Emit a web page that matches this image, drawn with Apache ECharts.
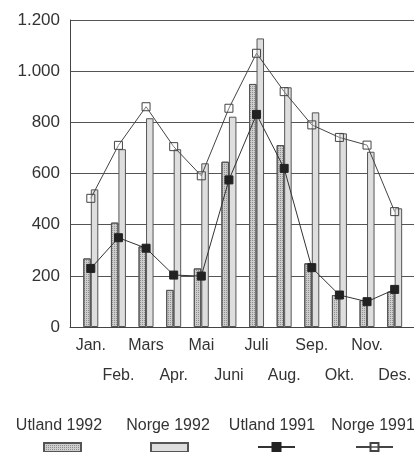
<!DOCTYPE html>
<html>
<head>
<meta charset="utf-8">
<script src="https://cdn.jsdelivr.net/npm/echarts@6/dist/echarts.min.js"></script>
<style>
html,body{margin:0;padding:0;background:#fff;}
#chart{width:414px;height:452px;}
</style>
</head>
<body>
<div id="chart"></div>
<script>
const categories = ['Jan.','Feb.','Mars','Apr.','Mai','Juni','Juli','Aug.','Sep.','Okt.','Nov.','Des.'];
const utland1992 = [268, 408, 315, 145, 229, 646, 950, 711, 249, 125, 105, 138];
const norge1992  = [538, 695, 816, 695, 640, 822, 1128, 937, 839, 757, 685, 464];
const utland1991 = [229, 349, 308, 203, 199, 575, 831, 620, 232, 125, 99, 147];
const norge1991  = [503, 710, 861, 705, 591, 855, 1070, 920, 790, 741, 711, 451];
const seriesNames = ['Utland 1992','Norge 1992','Utland 1991','Norge 1991'];
const yMin = 0, yMax = 1200, yStep = 200;

const FONT = '"Liberation Sans", Arial, sans-serif';
const TXT = '#333';
const chart = echarts.init(document.getElementById('chart'), null, {renderer:'canvas'});

const legendX = [43, 150, 257, 355];
const labelX = [59, 168, 272, 373];

chart.setOption({
  animation: false,
  backgroundColor: '#fff',
  textStyle: {fontFamily: FONT},
  grid: [
    {left: 77, right: 3, top: 20, bottom: 125},
    {left: 70, right: 0, top: 20, bottom: 125}
  ],
  xAxis: [
    {
      type: 'category', gridIndex: 0, data: categories, boundaryGap: true,
      axisLine: {show: false}, axisTick: {show: false},
      axisLabel: {
        interval: 0, margin: 4, fontFamily: FONT, fontSize: 16, color: TXT, lineHeight: 30,
        formatter: (v, i) => (i % 2 ? '\n' + v : v)
      }
    },
    {
      type: 'value', gridIndex: 1, min: 0, max: 1,
      axisLine: {show: true, lineStyle: {color: '#444', width: 1}},
      axisTick: {show: false}, axisLabel: {show: false}, splitLine: {show: false}
    }
  ],
  yAxis: [
    {type: 'value', gridIndex: 0, min: yMin, max: yMax, interval: yStep, show: false, splitLine: {show: false}},
    {
      type: 'value', gridIndex: 1, min: yMin, max: yMax, interval: yStep,
      axisLine: {show: true, lineStyle: {color: '#444', width: 1}},
      axisTick: {show: false},
      axisLabel: {
        margin: 10, fontFamily: FONT, fontSize: 17, color: TXT,
        formatter: v => String(v).replace(/\B(?=(\d{3})+(?!\d))/g, '.')
      },
      splitLine: {show: true, lineStyle: {color: '#555', width: 1}}
    }
  ],
  legend: seriesNames.map((n, i) => ({
    data: [n], left: legendX[i], top: 442, itemWidth: 37, itemHeight: i < 2 ? 9 : 10,
    icon: i < 2 ? 'rect' : undefined,
    formatter: () => '', itemGap: 0, padding: 0, selectedMode: false
  })),
  graphic: seriesNames.map((n, i) => ({
    type: 'text', x: labelX[i], y: 426,
    style: {text: n, font: '16px ' + FONT, fill: TXT, align: 'center', verticalAlign: 'middle'}
  })),
  series: [
    {
      name: seriesNames[0], type: 'bar', xAxisIndex: 0, yAxisIndex: 0, data: utland1992,
      barWidth: 7.5, barGap: '0%',
      itemStyle: {
        color: '#cdcdcd', borderColor: '#555', borderWidth: 1,
        decal: {symbol: 'rect', symbolSize: 1, color: 'rgba(70,70,70,0.45)', dashArrayX: [1, 1], dashArrayY: [1, 1], rotation: 0}
      }
    },
    {
      name: seriesNames[1], type: 'bar', xAxisIndex: 0, yAxisIndex: 0, data: norge1992,
      barWidth: 7.5, barGap: '0%',
      itemStyle: {color: '#dedede', borderColor: '#555', borderWidth: 1}
    },
    {
      name: seriesNames[2], type: 'line', xAxisIndex: 0, yAxisIndex: 0, data: utland1991,
      symbol: 'rect', symbolSize: 8, z: 5,
      lineStyle: {color: '#333', width: 1},
      itemStyle: {color: '#222', borderColor: '#222', borderWidth: 1}
    },
    {
      name: seriesNames[3], type: 'line', xAxisIndex: 0, yAxisIndex: 0, data: norge1991,
      symbol: 'rect', symbolSize: 8, z: 5,
      lineStyle: {color: '#444', width: 1},
      itemStyle: {color: 'rgba(255,255,255,0.3)', borderColor: '#444', borderWidth: 1}
    }
  ]
});
</script>
</body>
</html>
